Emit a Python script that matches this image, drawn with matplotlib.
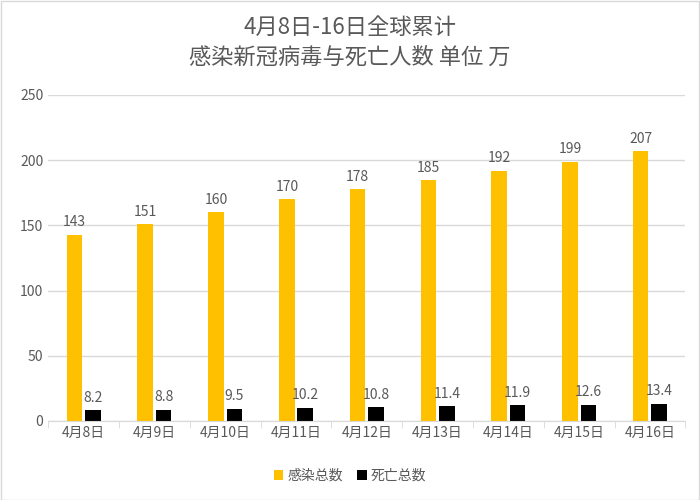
import matplotlib
matplotlib.use('Agg')
import matplotlib.pyplot as plt
import numpy as np

plt.rcParams['font.family'] = ['Noto Sans CJK JP', 'Noto Sans CJK SC', 'Noto Sans CJK TC', 'DejaVu Sans']

dates = ['4月8日', '4月9日', '4月10日', '4月11日', '4月12日', '4月13日', '4月14日', '4月15日', '4月16日']
infected = [143, 151, 160, 170, 178, 185, 192, 199, 207]
deaths = [8.2, 8.8, 9.5, 10.2, 10.8, 11.4, 11.9, 12.6, 13.4]

grey = '#595959'
fig = plt.figure(figsize=(7, 5), dpi=100)
fig.patches.append(plt.Rectangle((0.001, 0.001), 0.998, 0.998, transform=fig.transFigure,
                                 fill=False, edgecolor='#d9d9d9', linewidth=1))
ax = fig.add_axes([0.069, 0.158, 0.91, 0.652])

x = np.arange(len(dates))
w = 0.22
b1 = ax.bar(x - 0.13, infected, w, color='#FFC000', label='感染总数')
b2 = ax.bar(x + 0.13, deaths, w, color='#000000', label='死亡总数')
for r, v in zip(b1, infected):
    ax.text(r.get_x() + r.get_width() / 2, v + 4, f'{v}', ha='center', va='bottom', fontsize=10, color=grey)
for r, v in zip(b2, deaths):
    ax.text(r.get_x() + r.get_width() / 2, v + 4, f'{v}', ha='center', va='bottom', fontsize=10, color=grey)

ax.set_xlim(-0.5, len(dates) - 0.5)
ax.set_ylim(0, 250)
ax.set_yticks(range(0, 251, 50))
ax.set_xticks(x)
ax.set_xticklabels(dates)
ax.tick_params(axis='both', colors=grey, labelsize=10, length=0)
ax.set_xticks(np.arange(-0.5, len(dates), 1), minor=True)
ax.tick_params(axis='x', which='minor', length=5, color='#d9d9d9')
ax.yaxis.grid(True, color='#d9d9d9', linewidth=1)
ax.set_axisbelow(True)
for s in ['top', 'right', 'left']:
    ax.spines[s].set_visible(False)
ax.spines['bottom'].set_color('#d9d9d9')

fig.text(0.5, 0.945, '4月8日-16日全球累计', ha='center', va='center', fontsize=16, color=grey)
fig.text(0.5, 0.885, '感染新冠病毒与死亡人数 单位 万', ha='center', va='center', fontsize=16, color=grey)
fig.legend(handles=[b1, b2], loc='lower center', bbox_to_anchor=(0.5, 0.01), ncol=2, frameon=False,
           fontsize=10, labelcolor=grey, handlelength=0.7, handleheight=0.7, columnspacing=1.0, handletextpad=0.3)
fig.savefig('out.png')
